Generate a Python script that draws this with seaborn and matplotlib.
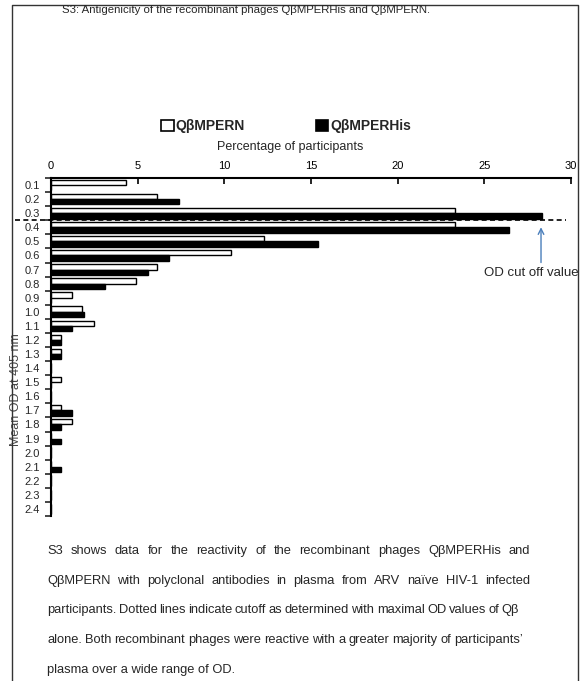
import seaborn as sns
import pandas as pd
import numpy as np
import matplotlib.pyplot as plt
from matplotlib.lines import Line2D
from matplotlib.transforms import blended_transform_factory

# data (percentage of participants per mean OD bin)
od_bins = ['0.1', '0.2', '0.3', '0.4', '0.5', '0.6', '0.7', '0.8', '0.9', '1.0', '1.1', '1.2',
           '1.3', '1.4', '1.5', '1.6', '1.7', '1.8', '1.9', '2.0', '2.1', '2.2', '2.3', '2.4']
pct_mpern = [4.3, 6.1, 23.3, 23.3, 12.3, 10.4, 6.1, 4.9, 1.2, 1.8, 2.5, 0.6,
             0.6, 0, 0.6, 0, 0.6, 1.2, 0, 0, 0, 0, 0, 0]
pct_mperhis = [0, 7.4, 28.3, 26.4, 15.4, 6.8, 5.6, 3.1, 0, 1.9, 1.2, 0.6,
               0.6, 0, 0, 0, 1.2, 0.6, 0.6, 0, 0.6, 0, 0, 0]
series = ['QβMPERN', 'QβMPERHis']
x_ticks = [0, 5, 10, 15, 20, 25, 30]
cutoff_pos = 2.5   # between 0.3 and 0.4

df = pd.DataFrame({
    'od': od_bins * 2,
    'pct': pct_mpern + pct_mperhis,
    'series': [series[0]] * len(od_bins) + [series[1]] * len(od_bins),
})

sns.set_style("white")
plt.rcParams['font.family'] = ['Liberation Sans', 'DejaVu Sans']

W, H = 583, 681
fig = plt.figure(figsize=(W / 100, H / 100), dpi=100)
ax = fig.add_axes([51 / W, 1 - 516 / H, 520 / W, 338 / H])

sns.barplot(data=df, x='pct', y='od', hue='series', order=od_bins, hue_order=series,
            palette={series[0]: 'white', series[1]: 'black'}, edgecolor='black',
            linewidth=1, width=0.76, errorbar=None, ax=ax)

ax.set_xlim(0, 30)
ax.set_ylim(23.5, -0.5)
ax.xaxis.tick_top()
ax.xaxis.set_label_position('top')
ax.set_xticks(x_ticks)
ax.tick_params(axis='x', direction='in', length=4, width=1.2, labelsize=8, pad=5, colors='black')
ax.tick_params(axis='y', which='major', length=0, labelsize=8, pad=8)
ax.set_yticks(np.arange(-0.5, len(od_bins), 1), minor=True)
ax.tick_params(axis='y', which='minor', left=True, direction='out', length=4, width=1.2)
for s in ['right', 'bottom']:
    ax.spines[s].set_visible(False)
for s in ['top', 'left']:
    ax.spines[s].set_linewidth(1.5)
    ax.spines[s].set_color('black')

ax.set_xlabel('Percentage of participants', fontsize=9)
ax.xaxis.set_label_coords(0.46, 1.083)
ax.set_ylabel('Mean OD at 405 nm', fontsize=9, color='#444444')
ax.yaxis.set_label_coords(-0.056, 0.373)

# cut off line and note
trans = blended_transform_factory(ax.transAxes, ax.transData)
ax.plot([-0.069, 0.99], [cutoff_pos, cutoff_pos], transform=trans, color='black',
        ls=(0, (3, 2)), lw=1.2, clip_on=False)
ax.annotate('', xy=(28.27, 2.8), xytext=(28.27, 5.7),
            arrowprops=dict(arrowstyle='->', color='#4a7ebb', lw=1))
ax.text(24.98, 6.26, 'OD cut off value', fontsize=9.5, va='center', ha='left', clip_on=False)

# legend
sns.move_legend(ax, 'lower left', bbox_to_anchor=(161 / W, 1 - 133 / H),
                bbox_transform=fig.transFigure, ncol=2, title=None, frameon=False,
                borderpad=0, borderaxespad=0, handlelength=0.9, handleheight=0.85,
                handletextpad=0.15, columnspacing=5.1,
                prop={'weight': 'bold', 'size': 10})
leg = ax.get_legend()
for h in leg.legend_handles:
    h.set_edgecolor('black')
    h.set_linewidth(1.2)

# page frame
fig.add_artist(Line2D([12 / W, 12 / W, 578 / W, 578 / W], [0, 1 - 5 / H, 1 - 5 / H, 0],
                      transform=fig.transFigure, color='#333333', lw=1))

fig.text(62 / W, 1 - 10 / H, 'S3: Antigenicity of the recombinant phages QβMPERHis and QβMPERN.',
         fontsize=8.2, va='center', ha='left')

# caption, justified
caption = [
    'S3 shows data for the reactivity of the recombinant phages QβMPERHis and',
    'QβMPERN with polyclonal antibodies in plasma from ARV naïve HIV-1 infected',
    'participants. Dotted lines indicate cutoff as determined with maximal OD values of Qβ',
    'alone. Both recombinant phages were reactive with a greater majority of participants’',
    'plasma over a wide range of OD.',
]
right_edges = [530, 530, 519, 523]
renderer = fig.canvas.get_renderer()
x0 = 47
for i, line in enumerate(caption):
    y = 1 - (551 + 29.7 * i) / H
    if i == len(caption) - 1:
        fig.text(x0 / W, y, line, fontsize=9.3, va='center', ha='left')
        continue
    words = line.split(' ')
    texts = [fig.text(0, y, w, fontsize=9.3, va='center', ha='left') for w in words]
    widths = [t.get_window_extent(renderer).width for t in texts]
    gap = (right_edges[i] - x0 - sum(widths)) / (len(words) - 1)
    x = x0
    for t, w in zip(texts, widths):
        t.set_x(x / W)
        x += w + gap

plt.savefig('out.png', dpi=100)
